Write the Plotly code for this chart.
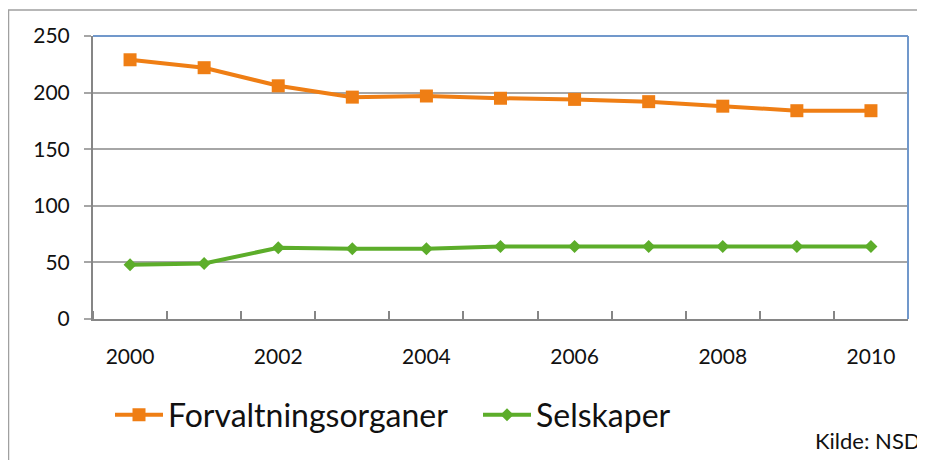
import plotly.graph_objects as go

years = [2000, 2001, 2002, 2003, 2004, 2005, 2006, 2007, 2008, 2009, 2010]
forvaltningsorganer = [229, 222, 206, 196, 197, 195, 194, 192, 188, 184, 184]
selskaper = [48, 49, 63, 62, 62, 64, 64, 64, 64, 64, 64]
y_ticks = [0, 50, 100, 150, 200, 250]
x_tick_years = [2000, 2002, 2004, 2006, 2008, 2010]

ORANGE = "#EF7E14"
GREEN = "#5CAD2A"
GRID = "#A6A6A6"
AXIS = "#868686"
BLUE = "#7198CB"
FONT = "Lato, Carlito, Calibri, sans-serif"

# page is offset by the default 8px body margin
OFF = 8
W, H = 925 - OFF, 460 - OFF
# target plot area in page pixels: x 93..908, y 36..319
PL, PR, PT, PB = 93, 908, 36, 319
ML, MR, MT, MB = PL - OFF, 925 - PR, PT - OFF, 460 - PB
PW, PH = PR - PL, PB - PT

def px_x(x):
    return (x - PL) / PW

def px_y(y):
    return (PB - y) / PH

fig = go.Figure()
fig.add_trace(go.Scatter(
    x=years, y=forvaltningsorganer, name="Forvaltningsorganer",
    mode="lines+markers",
    line=dict(color=ORANGE, width=4),
    marker=dict(symbol="square", size=13, color=ORANGE),
))
fig.add_trace(go.Scatter(
    x=years, y=selskaper, name="Selskaper",
    mode="lines+markers",
    line=dict(color=GREEN, width=4),
    marker=dict(symbol="diamond", size=10, color=GREEN),
))

fig.update_layout(
    width=W, height=H,
    margin=dict(l=ML, r=MR, t=MT, b=MB, pad=0),
    paper_bgcolor="white", plot_bgcolor="white",
    font=dict(family=FONT, color="#111111", size=21),
    showlegend=True,
    legend=dict(
        orientation="h", x=px_x(110), xanchor="left",
        y=px_y(415), yanchor="middle",
        font=dict(size=32, family=FONT, color="#111111"),
        bgcolor="rgba(0,0,0,0)", itemwidth=48, tracegroupgap=0,
        traceorder="normal", entrywidth=305, entrywidthmode="pixels",
    ),
    xaxis=dict(
        range=[min(years) - 0.5, max(years) + 0.5],
        tickmode="array", tickvals=x_tick_years,
        ticktext=[str(v) for v in x_tick_years],
        ticks="", showgrid=False, zeroline=False,
        showline=True, linecolor=AXIS, linewidth=2,
        ticklabelstandoff=18,
        tickfont=dict(size=21, family=FONT, color="#111111"),
        minor=dict(tick0=min(years) - 0.5, dtick=1, ticks="inside",
                   ticklen=8, tickwidth=2, tickcolor=AXIS, showgrid=False),
    ),
    yaxis=dict(
        range=[0, 250], tickmode="array", tickvals=y_ticks,
        showgrid=True, gridcolor=GRID, gridwidth=1.5,
        zeroline=False, showline=True, linecolor=AXIS, linewidth=2,
        ticks="outside", ticklen=7, tickwidth=1.5, tickcolor=GRID,
        ticklabelstandoff=10,
        tickfont=dict(size=21, family=FONT, color="#111111"),
    ),
    shapes=[
        dict(type="line", xref="paper", yref="paper", x0=0, x1=1, y0=1, y1=1,
             line=dict(color=BLUE, width=2), layer="above"),
        dict(type="line", xref="paper", yref="paper", x0=1, x1=1, y0=0, y1=1,
             line=dict(color=BLUE, width=2), layer="above"),
        dict(type="rect", xref="paper", yref="paper",
             x0=px_x(8.5), x1=px_x(1000), y0=px_y(520), y1=px_y(10),
             line=dict(color="#A0A0A0", width=1.5), layer="below"),
    ],
    annotations=[
        dict(text="Kilde: NSD", xref="paper", yref="paper",
             x=px_x(923), y=px_y(440), xanchor="right", yanchor="middle",
             showarrow=False, font=dict(size=22, family=FONT, color="#111111")),
    ],
)

fig.write_html("out.html")
